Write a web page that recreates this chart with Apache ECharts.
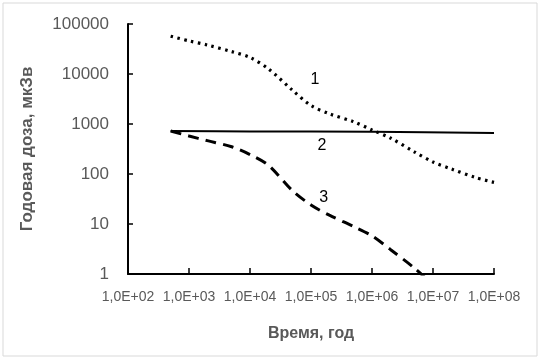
<!DOCTYPE html>
<html>
<head>
<meta charset="utf-8">
<script src="https://cdn.jsdelivr.net/npm/echarts@6/dist/echarts.min.js"></script>
<style>
  html, body { margin: 0; padding: 0; background: #fff; }
  #doseChart { width: 542px; height: 362px; }
</style>
</head>
<body>
<div id="doseChart"></div>
<script>
// curve 1 (dotted)
const years1 = [500, 1000, 2000, 5000, 10000, 20000, 50000, 100000, 200000, 500000, 1e6, 2e6, 5e6, 1e7, 2e7, 5e7, 1e8];
const dose1 = [57000, 46000, 38000, 28000, 21500, 12700, 4700, 2340, 1600, 1110, 760, 525, 275, 174, 126, 85, 68];

// curve 2 (solid)
const years2 = [500, 10000, 1e6, 1e8];
const dose2 = [725, 712, 700, 660];

// curve 3 (dashed)
const years3 = [500, 1000, 2000, 5000, 10000, 20000, 50000, 100000, 200000, 500000, 1e6, 2e6, 5e6, 1e7];
const dose3 = [725, 575, 465, 350, 245, 150, 46, 24, 15, 8.9, 5.8, 3.1, 1.3, 0.6];

const xTickLabels = ['1,0E+02', '1,0E+03', '1,0E+04', '1,0E+05', '1,0E+06', '1,0E+07', '1,0E+08'];
const yTickLabels = ['1', '10', '100', '1000', '10000', '100000'];

// curve numbers, placed in data coordinates
const curveNames = ['1', '2', '3'];
const curveNameAt = [[116000, 7600], [151000, 363], [162000, 33]];

const textGray = '#595959';
const chartDose = echarts.init(document.getElementById('doseChart'));

const pairs = (xs, ys) => xs.map((x, i) => [x, ys[i]]);

const numberMark = (i) => ({
    symbol: 'circle',
    symbolSize: 0,
    silent: true,
    label: {
        show: true,
        position: 'inside',
        formatter: curveNames[i],
        color: '#000',
        fontSize: 16,
        fontFamily: 'Liberation Sans'
    },
    data: [{ coord: curveNameAt[i] }]
});

const option = {
    animation: false,
    graphic: [{
        type: 'rect',
        shape: { x: 3, y: 3, width: 534, height: 353 },
        style: { fill: 'none', stroke: '#d9d9d9', lineWidth: 1 },
        silent: true
    }],
    grid: { left: 128, right: 48, top: 24, bottom: 88 },
    xAxis: {
        type: 'log',
        logBase: 10,
        min: 100,
        max: 1e8,
        name: 'Время, год',
        nameLocation: 'middle',
        nameGap: 52,
        nameTextStyle: { color: textGray, fontSize: 16, fontWeight: 'bold', fontFamily: 'Liberation Sans' },
        axisLine: { lineStyle: { color: '#000', width: 2 } },
        axisTick: { show: true, inside: true, length: 6, lineStyle: { color: '#000', width: 1.5 } },
        minorTick: { show: false },
        splitLine: { show: false },
        axisLabel: {
            color: textGray,
            fontSize: 14,
            fontFamily: 'Liberation Sans',
            margin: 16,
            formatter: (v) => xTickLabels[Math.round(Math.log10(v)) - 2]
        }
    },
    yAxis: {
        type: 'log',
        logBase: 10,
        min: 1,
        max: 100000,
        name: 'Годовая доза, мкЗв',
        nameLocation: 'middle',
        nameGap: 92,
        nameTextStyle: { color: textGray, fontSize: 17, fontWeight: 'bold', fontFamily: 'Liberation Sans' },
        axisLine: { show: true, lineStyle: { color: '#000', width: 2 } },
        axisTick: { show: true, inside: true, length: 5, lineStyle: { color: '#000', width: 1.5 } },
        minorTick: { show: false },
        splitLine: { show: false },
        axisLabel: {
            color: textGray,
            fontSize: 17,
            fontFamily: 'Liberation Sans',
            margin: 19,
            formatter: (v) => yTickLabels[Math.round(Math.log10(v))]
        }
    },
    series: [
        {
            name: '1',
            type: 'line',
            data: pairs(years1, dose1),
            smooth: 0.3,
            showSymbol: false,
            lineStyle: { color: '#000', width: 3.2, type: [2.5, 4.5] },
            markPoint: numberMark(0)
        },
        {
            name: '2',
            type: 'line',
            data: pairs(years2, dose2),
            smooth: 0.3,
            showSymbol: false,
            lineStyle: { color: '#000', width: 2, type: 'solid' },
            markPoint: numberMark(1)
        },
        {
            name: '3',
            type: 'line',
            data: pairs(years3, dose3),
            smooth: 0.3,
            showSymbol: false,
            clip: true,
            lineStyle: { color: '#000', width: 3, type: [11, 7] },
            markPoint: numberMark(2)
        }
    ]
};

chartDose.setOption(option);
</script>
</body>
</html>
